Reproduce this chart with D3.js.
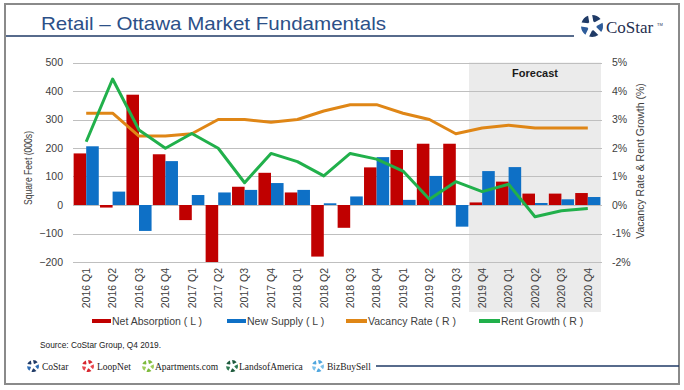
<!DOCTYPE html>
<html><head><meta charset="utf-8">
<script src="https://cdn.jsdelivr.net/npm/d3@7"></script>
<style>
html,body{margin:0;padding:0;background:#fff;}
svg{display:block;font-family:"Liberation Sans",Arial,sans-serif;}
</style></head>
<body><svg id="c" width="684" height="390"></svg>
<script>
const categories = ["2016 Q1","2016 Q2","2016 Q3","2016 Q4","2017 Q1","2017 Q2","2017 Q3","2017 Q4","2018 Q1","2018 Q2","2018 Q3","2018 Q4","2019 Q1","2019 Q2","2019 Q3","2019 Q4","2020 Q1","2020 Q2","2020 Q3","2020 Q4"];
const netAbsorption = [181,-9,387,178,-53,-200,64,113,44,-181,-80,132,193,215,215,9,82,40,40,42];
const newSupply = [206,47,-91,154,35,44,53,77,53,6,30,168,18,102,-76,119,133,7,20,28];
const vacancyRate = [3.22,3.22,2.42,2.42,2.5,3.0,3.0,2.9,3.0,3.3,3.52,3.52,3.22,3.0,2.5,2.7,2.8,2.7,2.7,2.7];
const rentGrowth = [2.22,4.42,2.63,1.99,2.51,1.99,0.78,1.81,1.52,1.02,1.81,1.61,1.19,0.2,0.82,0.47,0.73,-0.41,-0.2,-0.12];
const leftTicks = [500,400,300,200,100,0,-100,-200];
const rightTicks = [5,4,3,2,1,0,-1,-2];
const forecastStart = "2019 Q4";
const seriesNames = ["Net Absorption ( L )","New Supply ( L )","Vacancy Rate ( R )","Rent Growth ( R )"];
const footerBrands = ["CoStar","LoopNet","Apartments.com","LandsofAmerica","BizBuySell"];

const svg = d3.select("#c");
const C = {red:"#C00000", blue:"#0E70C6", orange:"#DF8616", green:"#21B04B", grid:"#BFBFBF", text:"#404040", navy:"#1F3A66", title:"#2C5088"};

// frame
svg.append("rect").attr("x",5).attr("y",4).attr("width",674).attr("height",380)
  .attr("fill","none").attr("stroke","#8a8a8a").attr("stroke-width",2);

// title
svg.append("text").attr("x",41).attr("y",30).attr("font-size",19).attr("fill",C.title)
  .attr("textLength",345).attr("lengthAdjust","spacingAndGlyphs")
  .text("Retail \u2013 Ottawa Market Fundamentals");
svg.append("line").attr("x1",6).attr("x2",574).attr("y1",36).attr("y2",36)
  .attr("stroke",C.navy).attr("stroke-width",1.5);

// logo helper
function logo(g, cx, cy, r, colors){
  const arc = d3.arc().innerRadius(r*0.42).outerRadius(r).padAngle(0.35);
  const pie = d3.pie().value(1).sort(null)(d3.range(5));
  g.append("g").attr("transform",`translate(${cx},${cy}) rotate(-10)`)
    .selectAll("path").data(pie).join("path")
    .attr("d",arc).attr("fill",(d,i)=>colors[i%colors.length]);
}
logo(svg, 592, 26, 11, ["#1F3A66","#2E5C9A","#1F3A66","#2E5C9A","#1F3A66"]);
svg.append("text").attr("x",606).attr("y",33).attr("font-family","'Liberation Serif','DejaVu Serif',serif")
  .attr("font-size",17).attr("fill","#1F2F4F").text("CoStar");
svg.append("text").attr("x",657).attr("y",26).attr("font-size",4).attr("fill","#1F2F4F").text("TM");

// scales
const x0 = d3.scaleBand().domain(categories).range([73,601]).padding(0);
const x1 = d3.scaleBand().domain(["na","ns"]).range([0,x0.bandwidth()]).paddingOuter(0.05).paddingInner(0);
const yL = d3.scaleLinear().domain([-200,500]).range([262,62.5]);
const yR = d3.scaleLinear().domain([-2,5]).range([262,62.5]);

// forecast shading
const fx = x0(forecastStart);
svg.append("rect").attr("x",fx).attr("y",yL(500)).attr("width",601-fx).attr("height",312-yL(500)).attr("fill","#EBEBEB");
svg.append("text").attr("x",(fx+601)/2).attr("y",77).attr("text-anchor","middle")
  .attr("font-size",11).attr("font-weight","bold").attr("fill","#1a1a1a").text("Forecast");

// gridlines
svg.append("g").selectAll("line").data(leftTicks).join("line")
  .attr("x1",73).attr("x2",602).attr("y1",d=>Math.round(yL(d))+0.5).attr("y2",d=>Math.round(yL(d))+0.5)
  .attr("stroke",C.grid).attr("stroke-width",1);

// axes
const axL = svg.append("g").attr("transform","translate(73,0)")
  .call(d3.axisLeft(yL).tickValues(leftTicks).tickSize(0).tickPadding(10));
axL.select(".domain").remove();
axL.selectAll("text").attr("font-size",10.5).attr("fill",C.text).attr("font-family","'Liberation Sans',Arial,sans-serif");
const axR = svg.append("g").attr("transform","translate(601,0)")
  .call(d3.axisRight(yR).tickValues(rightTicks).tickSize(0).tickPadding(11).tickFormat(d=>d+"%"));
axR.select(".domain").remove();
axR.selectAll("text").attr("font-size",10.5).attr("fill",C.text).attr("font-family","'Liberation Sans',Arial,sans-serif");

const axB = svg.append("g").attr("transform","translate(0,262)")
  .call(d3.axisBottom(x0).tickSize(0).tickPadding(0));
axB.select(".domain").remove();
axB.selectAll("text").attr("font-size",10.5).attr("fill",C.text).attr("font-family","'Liberation Sans',Arial,sans-serif")
  .attr("text-anchor","end").attr("dy",null).attr("y",0)
  .attr("transform","translate(3.8,6) rotate(-90)");

// axis titles
svg.append("text").attr("transform","translate(32,168) rotate(-90)").attr("text-anchor","middle")
  .attr("font-size",11.5).attr("fill",C.text).attr("textLength",74).attr("lengthAdjust","spacingAndGlyphs")
  .text("Square Feet (000s)");
svg.append("text").attr("transform","translate(644,161) rotate(-90)").attr("text-anchor","middle")
  .attr("font-size",10.5).attr("fill",C.text).text("Vacancy Rate & Rent Growth (%)");

// bars
const barData = categories.map((c,i)=>({c, na:netAbsorption[i], ns:newSupply[i]}));
const gB = svg.append("g");
gB.selectAll("g").data(barData).join("g").attr("transform",d=>`translate(${x0(d.c)},0)`)
  .selectAll("rect").data(d=>[{k:"na",v:d.na},{k:"ns",v:d.ns}]).join("rect")
  .attr("x",d=>x1(d.k)).attr("width",x1.bandwidth())
  .attr("y",d=>yL(Math.max(0,d.v))).attr("height",d=>Math.abs(yL(d.v)-yL(0)))
  .attr("fill",d=>d.k==="na"?C.red:C.blue);

// lines
const cx = c=>x0(c)+x0.bandwidth()/2;
const line = d3.line().x(d=>cx(d.c)).y(d=>yR(d.v));
svg.append("path").datum(categories.map((c,i)=>({c,v:vacancyRate[i]})))
  .attr("d",line).attr("fill","none").attr("stroke",C.orange).attr("stroke-width",3).attr("stroke-linejoin","round");
svg.append("path").datum(categories.map((c,i)=>({c,v:rentGrowth[i]})))
  .attr("d",line).attr("fill","none").attr("stroke",C.green).attr("stroke-width",3).attr("stroke-linejoin","round");

// legend
const legendItems = [
  {name:seriesNames[0], color:C.red, x:92, w:19},
  {name:seriesNames[1], color:C.blue, x:227, w:19},
  {name:seriesNames[2], color:C.orange, x:346, w:21},
  {name:seriesNames[3], color:C.green, x:479, w:21}
];
const lg = svg.append("g").selectAll("g").data(legendItems).join("g").attr("transform",d=>`translate(${d.x},321)`);
lg.append("rect").attr("x",0).attr("y",-2).attr("width",d=>d.w).attr("height",4).attr("fill",d=>d.color);
lg.append("text").attr("x",d=>d.w+1).attr("y",4).attr("font-size",10.5).attr("fill",C.text).text(d=>d.name);

// footer
svg.append("text").attr("x",40).attr("y",348).attr("font-size",9).attr("fill","#222")
  .attr("font-family","'Liberation Sans Narrow','Liberation Sans',Arial,sans-serif")
  .attr("textLength",121).attr("lengthAdjust","spacingAndGlyphs").text("Source: CoStar Group, Q4 2019.");
const brandColors = [["#1F3A66","#2E6CB4"],["#D7262E","#E8474D"],["#7DBA3C","#9FCC5A"],["#1E5A3C","#2F7A52"],["#4FA6DE","#7CC0EA"]];
const brandX = [[33,42],[88,97],[148,155],[232,239],[318,327]];
footerBrands.forEach((b,i)=>{
  logo(svg, brandX[i][0], 366, 6, [brandColors[i][0],brandColors[i][1],brandColors[i][0],brandColors[i][1],brandColors[i][0]]);
  svg.append("text").attr("x",brandX[i][1]).attr("y",369.5).attr("font-size",9.5)
    .attr("font-family","'Liberation Serif','DejaVu Serif',serif").attr("fill","#222").text(b);
});
svg.append("line").attr("x1",376).attr("x2",679).attr("y1",366).attr("y2",366).attr("stroke",C.navy).attr("stroke-width",1.5);
</script></body></html>
